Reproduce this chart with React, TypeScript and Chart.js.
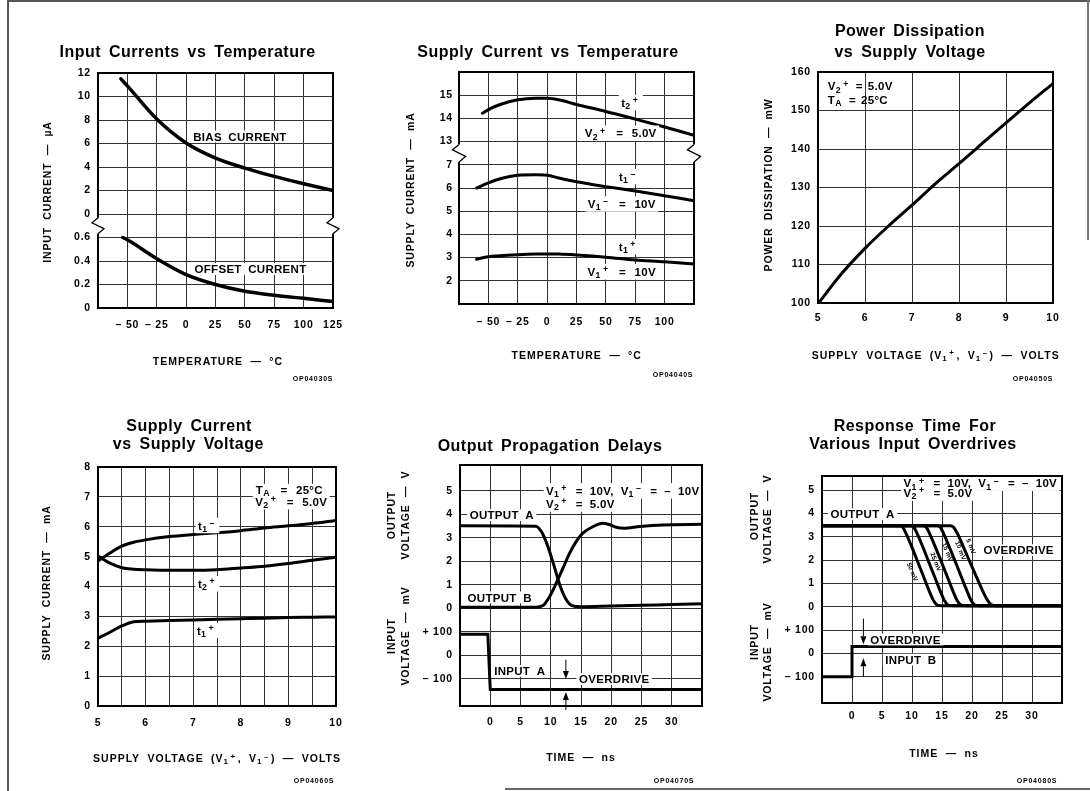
import React, { useEffect, useRef } from 'react';
import { Chart, registerables } from 'chart.js';

Chart.register(...registerables);

const PAGE_W = 1090;
const PAGE_H = 791;
const FONT = '"Liberation Sans", Arial, Helvetica, sans-serif';

/* ================= DATA ================= */
// Panel 1 — Input Currents vs Temperature
const p1BiasTemp = [-55.5, -50, -25, 0, 25, 50, 75, 100, 125];
const p1BiasCurrent = [11.5, 10.9, 8.08, 6.04, 4.76, 3.91, 3.2, 2.58, 2.0];
const p1OffsetTemp = [-54, -50, -25, 0, 25, 50, 75, 100, 125];
const p1OffsetCurrent = [0.6, 0.58, 0.42, 0.284, 0.2, 0.142, 0.108, 0.082, 0.056];
const p1TempTicks = [-75, -50, -25, 0, 25, 50, 75, 100, 125];
const p1TempLabels = ['', '– 50', '– 25', '0', '25', '50', '75', '100', '125'];
const p1GridSteps = [0, 1, 2, 3, 4, 5, 6, 7, 8, 9, 10];
const p1CurrentLabels = ['0', '0.2', '0.4', '0.6', '0', '2', '4', '6', '8', '10', '12'];

// Panel 2 — Supply Current vs Temperature
const p2TempT2 = [-55, -50, -40, -25, -10, 0, 10, 25, 50, 75, 100, 125];
const p2T2Plus = [14.22, 14.38, 14.6, 14.8, 14.87, 14.87, 14.8, 14.6, 14.3, 13.97, 13.63, 13.27];
const p2TempT1 = [-60, -50, -40, -25, -10, 0, 10, 25, 50, 75, 100, 125];
const p2T1Minus = [6.0, 6.22, 6.4, 6.55, 6.57, 6.55, 6.43, 6.27, 6.06, 5.87, 5.67, 5.45];
const p2T1Plus = [2.93, 3.04, 3.08, 3.12, 3.15, 3.16, 3.15, 3.11, 3.02, 2.9, 2.82, 2.72];
const p2TempTicks = [-75, -50, -25, 0, 25, 50, 75, 100, 125];
const p2TempLabels = ['', '– 50', '– 25', '0', '25', '50', '75', '100', ''];
const p2GridSteps = [0, 1, 2, 3, 4, 5, 6, 7, 8, 9, 10];
const p2CurrentLabels = ['', '2', '3', '4', '5', '6', '7', '13', '14', '15', ''];

// Panel 3 — Power Dissipation vs Supply Voltage
const p3Volts = [5, 5.5, 6, 6.5, 7, 7.5, 8, 8.5, 9, 9.5, 10];
const p3Power = [99.8, 107.6, 114.2, 120, 125.4, 131, 136.2, 141.5, 146.8, 152, 157];
const p3VoltTicks = [5, 6, 7, 8, 9, 10];
const p3VoltLabels = ['5', '6', '7', '8', '9', '10'];
const p3PowerTicks = [100, 110, 120, 130, 140, 150, 160];
const p3PowerLabels = ['100', '110', '120', '130', '140', '150', '160'];

// Panel 4 — Supply Current vs Supply Voltage
const p4Volts = [5, 5.25, 5.5, 5.75, 6, 6.5, 7, 7.5, 8, 8.5, 9, 9.5, 10];
const p4T1Minus = [4.85, 5.12, 5.35, 5.48, 5.56, 5.67, 5.74, 5.8, 5.87, 5.96, 6.03, 6.11, 6.21];
const p4T2Plus = [5.02, 4.78, 4.63, 4.58, 4.56, 4.54, 4.54, 4.56, 4.62, 4.68, 4.77, 4.88, 4.98];
const p4T1Plus = [2.27, 2.47, 2.68, 2.82, 2.84, 2.86, 2.88, 2.9, 2.92, 2.94, 2.96, 2.97, 2.98];
const p4VoltTicks = [5, 5.5, 6, 6.5, 7, 7.5, 8, 8.5, 9, 9.5, 10];
const p4VoltLabels = ['5', '', '6', '', '7', '', '8', '', '9', '', '10'];
const p4CurrentTicks = [0, 1, 2, 3, 4, 5, 6, 7, 8];
const p4CurrentLabels = ['0', '1', '2', '3', '4', '5', '6', '7', '8'];

// Panel 5 — Output Propagation Delays
const p5OutATime = [-5, 7.5, 8.5, 9.5, 10.5, 11.5, 12.5, 13.5, 15, 20, 25, 30, 35];
const p5OutAVolt = [3.52, 3.5, 3.25, 2.65, 1.85, 1.0, 0.4, 0.12, 0.07, 0.1, 0.13, 0.17, 0.2];
const p5OutBTime = [-5, 7.5, 8.7, 9.8, 10.9, 12, 13.1, 14.2, 15.3, 17, 18.6, 19.5, 20.8, 22.2, 24.7, 28.5, 35];
const p5OutBVolt = [0.05, 0.05, 0.12, 0.5, 1.07, 1.7, 2.34, 2.84, 3.2, 3.48, 3.62, 3.58, 3.45, 3.41, 3.48, 3.55, 3.58];
const p5InATime = [-5, -0.4, 0, 35];
const p5InAmV = [90, 90, -145, -145];

// Panel 6 — Response Time for Various Input Overdrives
const p6InBTime = [-5, 0, 0, 35];
const p6InBmV = [-100, -100, 30, 30];
const p6Od50Time = [-5, 8.0, 8.5, 9.0, 10.0, 11.0, 12.0, 13.0, 13.6, 14.2, 15.0, 35];
const p6Od50Volt = [3.48, 3.48, 3.4, 3.15, 2.55, 1.9, 1.25, 0.6, 0.26, 0.08, 0.05, 0.05];
const p6Od25Time = [-5, 9.8, 10.3, 10.8, 11.8, 12.8, 13.8, 14.8, 15.4, 16.0, 16.8, 35];
const p6Od25Volt = [3.48, 3.48, 3.41, 3.17, 2.57, 1.92, 1.27, 0.62, 0.27, 0.08, 0.05, 0.05];
const p6Od15Time = [-5, 11.9, 12.4, 12.9, 13.9, 14.9, 15.9, 16.9, 17.5, 18.1, 18.9, 35];
const p6Od15Volt = [3.48, 3.48, 3.4, 3.16, 2.56, 1.93, 1.28, 0.63, 0.28, 0.09, 0.05, 0.05];
const p6Od10Time = [-5, 14.2, 14.7, 15.2, 16.2, 17.2, 18.2, 19.2, 19.8, 20.4, 21.2, 35];
const p6Od10Volt = [3.48, 3.48, 3.42, 3.18, 2.58, 1.95, 1.3, 0.66, 0.3, 0.09, 0.05, 0.05];
const p6Od5Time = [-5, 16.4, 16.9, 17.5, 18.6, 19.7, 20.8, 21.9, 22.6, 23.3, 24.2, 35];
const p6Od5Volt = [3.48, 3.48, 3.42, 3.18, 2.55, 1.9, 1.25, 0.62, 0.28, 0.08, 0.05, 0.05];
const p6OdLabels = ['50 mV', '25 mV', '15 mV', '10 mV', '5 mV'];

// shared time axis (panels 5, 6)
const timeTicks = [-5, 0, 5, 10, 15, 20, 25, 30, 35];
const timeLabels = ['', '0', '5', '10', '15', '20', '25', '30', ''];
const voltGridSteps = [-3, -2, -1, 0, 1, 2, 3, 4, 5];
const voltLabels = ['– 100', '0', '+ 100', '0', '1', '2', '3', '4', '5'];

/* ============ broken-axis mappings ============ */
const p1Upper = (uA: number) => 4 + uA / 2; // 0..12 µA  -> grid 4..10
const p1Lower = (uA: number) => uA * 5; // 0..0.6 µA -> grid 0..3
const p2Map = (mA: number) => (mA >= 10 ? mA - 6 : mA - 1); // 13..16 -> 7..10, 1..7 -> 0..6
const outV = (v: number) => v; // output volts
const inMV = (mv: number) => -2 + mv / 100; // input millivolts

/* ============ helpers ============ */
const pts = (xs: number[], ys: number[], f: (v: number) => number = (v) => v) =>
  xs.map((x, i) => ({ x, y: f(ys[i]) }));

const curve = (data: any[], width = 3) => ({
  data,
  borderColor: '#000',
  borderWidth: width,
  pointRadius: 0,
  fill: false,
  cubicInterpolationMode: 'monotone',
  borderCapStyle: 'round',
  borderJoinStyle: 'round',
});
const stepLine = (data: any[]) => ({
  data,
  borderColor: '#000',
  borderWidth: 3,
  pointRadius: 0,
  fill: false,
  tension: 0,
  borderJoinStyle: 'miter',
});

function richSegments(s: string) {
  const out: { t: string; k: string }[] = [];
  const re = /\{([_^])([^}]*)\}/g;
  let last = 0;
  let m: RegExpExecArray | null;
  while ((m = re.exec(s))) {
    if (m.index > last) out.push({ t: s.slice(last, m.index), k: 'n' });
    out.push({ t: m[2], k: m[1] === '_' ? 'b' : 'p' });
    last = re.lastIndex;
  }
  if (last < s.length) out.push({ t: s.slice(last), k: 'n' });
  return out;
}

type TOpt = { size?: number; ls?: number; ws?: number; align?: string; bg?: boolean; rot?: number; gap?: number; mode?: string };

function txt(ctx: any, s: string, x: number, y: number, o: TOpt = {}) {
  const size = o.size ?? 11.5;
  const ls = o.ls ?? 0.3;
  const ws = o.ws ?? 0;
  const gap = o.gap ?? 1.2;
  const mode = o.mode ?? 'both';
  const segs = richSegments(s);
  ctx.save();
  ctx.translate(x, y);
  if (o.rot) ctx.rotate(o.rot);
  ctx.letterSpacing = `${ls}px`;
  const fontFor = (k: string) => `bold ${k === 'n' ? size : size * 0.76}px ${FONT}`;
  // split into pieces so that extra word spacing is applied manually
  const pieces: { t: string; k: string; w: number }[] = [];
  segs.forEach((sg) => {
    ctx.font = fontFor(sg.k);
    const parts = sg.t.split(' ');
    parts.forEach((p, j) => {
      if (j > 0) pieces.push({ t: '', k: sg.k, w: ctx.measureText(' ').width + ws });
      if (p) pieces.push({ t: p, k: sg.k, w: ctx.measureText(p).width });
    });
    if (sg.k !== 'n' && pieces.length) pieces[pieces.length - 1].w += gap;
  });
  const total = pieces.reduce((a, b) => a + b.w, 0);
  let cx = o.align === 'center' ? -total / 2 : o.align === 'right' ? -total : 0;
  if (o.bg && mode !== 'text') {
    const hasSup = segs.some((g) => g.k === 'p');
    const hasSub = segs.some((g) => g.k === 'b');
    const top = -(hasSup ? 0.54 : 0.38) * size - 1.5;
    const bot = (hasSub ? 0.54 : 0.38) * size + 1.5;
    ctx.fillStyle = '#fff';
    ctx.fillRect(cx - 2.5, top, total + 5, bot - top);
  }
  if (mode !== 'bg') {
    ctx.fillStyle = '#000';
    ctx.textAlign = 'left';
    ctx.textBaseline = 'alphabetic';
    const base = size * 0.36;
    pieces.forEach((pc) => {
      if (pc.t) {
        ctx.font = fontFor(pc.k);
        const dy = pc.k === 'b' ? size * 0.19 : pc.k === 'p' ? -size * 0.32 : 0;
        ctx.fillText(pc.t, cx, base + dy);
      }
      cx += pc.w;
    });
  }
  ctx.restore();
}

const title = (ctx: any, s: string, x: number, y: number) =>
  txt(ctx, s, x, y, { size: 16, ls: 0.5, ws: 3, align: 'center' });
const axisX = (ctx: any, s: string, x: number, y: number) =>
  txt(ctx, s, x, y, { size: 10.5, ls: 1.0, ws: 3.5, align: 'center', gap: 1.5 });
const axisY = (ctx: any, s: string, x: number, y: number) =>
  txt(ctx, s, x, y, { size: 10.5, ls: 0.85, ws: 3.5, align: 'center', rot: -Math.PI / 2 });
const code = (ctx: any, s: string, x: number, y: number) =>
  txt(ctx, s, x, y, { size: 7, ls: 0.8, ws: 0, align: 'center' });

type Lbl = [string, number, number, string?, boolean?];
function labels(ctx: any, list: Lbl[], eqSpacing = 3.5) {
  const opt = (l: Lbl, mode: string) => ({
    size: 11.5,
    ls: 0.3,
    ws: l[0].includes('=') ? eqSpacing : 3,
    gap: 2.2,
    align: l[3] ?? 'center',
    bg: l[4] ?? true,
    mode,
  });
  list.forEach((l) => txt(ctx, l[0], l[1], l[2], opt(l, 'bg')));
  list.forEach((l) => txt(ctx, l[0], l[1], l[2], opt(l, 'text')));
}

function frame(ctx: any, a: any) {
  ctx.save();
  ctx.strokeStyle = '#000';
  ctx.lineWidth = 2;
  ctx.strokeRect(a.left, a.top, a.right - a.left, a.bottom - a.top);
  ctx.restore();
}

function breakMark(ctx: any, x: number, y: number, s = 1) {
  ctx.save();
  ctx.fillStyle = '#fff';
  ctx.fillRect(x - 2, y - 8 * s, 4, 16 * s);
  ctx.strokeStyle = '#000';
  ctx.lineWidth = 1.3;
  ctx.beginPath();
  ctx.moveTo(x, y - 8 * s);
  ctx.lineTo(x - 6 * s, y - 3 * s);
  ctx.lineTo(x + 6 * s, y + 3 * s);
  ctx.lineTo(x, y + 8 * s);
  ctx.stroke();
  ctx.restore();
}

function arrow(ctx: any, x: number, yFrom: number, yTo: number) {
  ctx.save();
  ctx.strokeStyle = '#000';
  ctx.fillStyle = '#000';
  ctx.lineWidth = 1;
  const dir = Math.sign(yTo - yFrom);
  const hl = 8;
  const hw = 3;
  ctx.beginPath();
  ctx.moveTo(x, yFrom);
  ctx.lineTo(x, yTo - dir * hl);
  ctx.stroke();
  ctx.beginPath();
  ctx.moveTo(x - hw, yTo - dir * hl);
  ctx.lineTo(x + hw, yTo - dir * hl);
  ctx.lineTo(x, yTo);
  ctx.closePath();
  ctx.fill();
  ctx.restore();
}

/* ============ chart builder ============ */
type Axis = { min: number; max: number; ticks: number[]; labels: string[]; pad: number };
type Spec = {
  area: [number, number, number, number];
  x: Axis;
  y: Axis;
  datasets: any[];
  draw: (c: any, ctx: any, X: (v: number) => number, Y: (v: number) => number) => void;
};

const YW = 40;
const XH = 30;

function buildChart(canvas: HTMLCanvasElement, s: Spec) {
  const [L, T, R, B] = s.area;
  const tickFont = { family: FONT, size: 10.5, weight: 'bold' };
  const grid = { color: '#333', lineWidth: 1, drawTicks: false };
  return new Chart(canvas, {
    type: 'line',
    data: { datasets: s.datasets },
    options: {
      responsive: false,
      animation: false,
      events: [],
      layout: { padding: { left: L - YW, top: T, right: PAGE_W - R, bottom: PAGE_H - B - XH } },
      plugins: { legend: { display: false }, tooltip: { enabled: false }, title: { display: false } },
      scales: {
        x: {
          type: 'linear',
          min: s.x.min,
          max: s.x.max,
          afterBuildTicks: (sc: any) => {
            sc.ticks = s.x.ticks.map((v) => ({ value: v }));
          },
          afterFit: (sc: any) => {
            sc.height = XH;
          },
          ticks: {
            autoSkip: false,
            maxRotation: 0,
            minRotation: 0,
            padding: s.x.pad,
            color: '#000',
            font: tickFont,
            callback: (_v: any, i: number) => s.x.labels[i] ?? '',
          },
          grid,
          border: { display: false },
        },
        y: {
          type: 'linear',
          min: s.y.min,
          max: s.y.max,
          afterBuildTicks: (sc: any) => {
            sc.ticks = s.y.ticks.map((v) => ({ value: v }));
          },
          afterFit: (sc: any) => {
            sc.width = YW;
          },
          ticks: {
            autoSkip: false,
            padding: s.y.pad,
            color: '#000',
            font: tickFont,
            callback: (_v: any, i: number) => s.y.labels[i] ?? '',
          },
          grid,
          border: { display: false },
        },
      },
    },
    plugins: [
      {
        id: 'panelOverlay',
        beforeDraw: (c: any) => {
          c.ctx.letterSpacing = '0.8px';
        },
        afterDraw: (c: any) => {
          const X = (v: number) => c.scales.x.getPixelForValue(v);
          const Y = (v: number) => c.scales.y.getPixelForValue(v);
          s.draw(c, c.ctx, X, Y);
        },
      },
    ],
  } as any);
}

/* ============ panel specs ============ */
const specs: Spec[] = [
  {
    area: [98, 73, 333, 308],
    x: { min: -75, max: 125, ticks: p1TempTicks, labels: p1TempLabels, pad: 11 },
    y: { min: 0, max: 10, ticks: p1GridSteps, labels: p1CurrentLabels, pad: 7 },
    datasets: [curve(pts(p1BiasTemp, p1BiasCurrent, p1Upper), 3.5), curve(pts(p1OffsetTemp, p1OffsetCurrent, p1Lower), 3.5)],
    draw: (c, ctx, X, Y) => {
      labels(ctx, [
        ['BIAS CURRENT', X(45.8), Y(p1Upper(6.6))],
        ['OFFSET CURRENT', X(54.8), Y(p1Lower(0.332))],
      ]);
      frame(ctx, c.chartArea);
      breakMark(ctx, c.chartArea.left, Y(3.5));
      breakMark(ctx, c.chartArea.right, Y(3.5));
      title(ctx, 'Input Currents vs Temperature', 187.5, 51.7);
      axisX(ctx, 'TEMPERATURE — °C', 218, 361.7);
      axisY(ctx, 'INPUT CURRENT — µA', 47.3, 192);
      code(ctx, 'OP04030S', 313, 378);
    },
  },
  {
    area: [459, 72, 694, 304],
    x: { min: -75, max: 125, ticks: p2TempTicks, labels: p2TempLabels, pad: 11.5 },
    y: { min: 0, max: 10, ticks: p2GridSteps, labels: p2CurrentLabels, pad: 6 },
    datasets: [
      curve(pts(p2TempT2, p2T2Plus, p2Map)),
      curve(pts(p2TempT1, p2T1Minus, p2Map)),
      curve(pts(p2TempT1, p2T1Plus, p2Map)),
    ],
    draw: (c, ctx, X, Y) => {
      labels(
        ctx,
        [
          ['t{_2}{^+}', X(71.2), Y(p2Map(14.68))],
          ['V{_2}{^+} = 5.0V', X(62.6), Y(p2Map(13.36))],
          ['t{_1}{^–}', X(69.1), Y(p2Map(6.49))],
          ['V{_1}{^–} = 10V', X(63.5), Y(p2Map(5.31))],
          ['t{_1}{^+}', X(69.1), Y(p2Map(3.47))],
          ['V{_1}{^+} = 10V', X(63.5), Y(p2Map(2.39))],
        ],
        5
      );
      frame(ctx, c.chartArea);
      breakMark(ctx, c.chartArea.left, Y(6.5), 1.1);
      breakMark(ctx, c.chartArea.right, Y(6.5), 1.1);
      title(ctx, 'Supply Current vs Temperature', 548, 51.7);
      axisX(ctx, 'TEMPERATURE — °C', 576.7, 355);
      axisY(ctx, 'SUPPLY CURRENT — mA', 410, 190);
      code(ctx, 'OP04040S', 673, 374);
    },
  },
  {
    area: [818, 72, 1053, 303],
    x: { min: 5, max: 10, ticks: p3VoltTicks, labels: p3VoltLabels, pad: 9 },
    y: { min: 100, max: 160, ticks: p3PowerTicks, labels: p3PowerLabels, pad: 7 },
    datasets: [curve(pts(p3Volts, p3Power))],
    draw: (c, ctx, X, Y) => {
      labels(
        ctx,
        [
          ['V{_2}{^+} = 5.0V', X(5.21), Y(156.3), 'left', false],
          ['T{_A} = 25°C', X(5.21), Y(152.7), 'left', false],
        ],
        1.5
      );
      frame(ctx, c.chartArea);
      title(ctx, 'Power Dissipation', 910, 30);
      title(ctx, 'vs Supply Voltage', 910, 51.7);
      axisX(ctx, 'SUPPLY VOLTAGE (V{_1}{^+}, V{_1}{^–}) — VOLTS', 935.7, 355);
      axisY(ctx, 'POWER DISSIPATION — mW', 768.3, 185);
      code(ctx, 'OP04050S', 1033, 378);
    },
  },
  {
    area: [98, 467, 336, 706],
    x: { min: 5, max: 10, ticks: p4VoltTicks, labels: p4VoltLabels, pad: 11 },
    y: { min: 0, max: 8, ticks: p4CurrentTicks, labels: p4CurrentLabels, pad: 7 },
    datasets: [curve(pts(p4Volts, p4T1Minus)), curve(pts(p4Volts, p4T2Plus)), curve(pts(p4Volts, p4T1Plus))],
    draw: (c, ctx, X, Y) => {
      labels(
        ctx,
        [
          ['T{_A} = 25°C', X(9.02), Y(7.24)],
          ['V{_2}{^+} = 5.0V', X(9.06), Y(6.84)],
          ['t{_1}{^–}', X(7.3), Y(6.04)],
          ['t{_2}{^+}', X(7.3), Y(4.09)],
          ['t{_1}{^+}', X(7.28), Y(2.53)],
        ],
        5
      );
      frame(ctx, c.chartArea);
      title(ctx, 'Supply Current', 189, 425);
      title(ctx, 'vs Supply Voltage', 188.3, 443.3);
      axisX(ctx, 'SUPPLY VOLTAGE (V{_1}{^+}, V{_1}{^–}) — VOLTS', 217, 758.5);
      axisY(ctx, 'SUPPLY CURRENT — mA', 46.7, 583);
      code(ctx, 'OP04060S', 314, 780);
    },
  },
  {
    area: [460, 465, 702, 706],
    x: { min: -5, max: 35, ticks: timeTicks, labels: timeLabels, pad: 9.7 },
    y: { min: -4.15, max: 6.1, ticks: voltGridSteps, labels: voltLabels, pad: 7 },
    datasets: [
      curve(pts(p5OutATime, p5OutAVolt, outV)),
      curve(pts(p5OutBTime, p5OutBVolt, outV)),
      stepLine(pts(p5InATime, p5InAmV, inMV)),
    ],
    draw: (c, ctx, X, Y) => {
      labels(ctx, [
        ['V{_1}{^+} = 10V, V{_1}{^–} = – 10V', X(9.2), Y(5.0), 'left'],
        ['V{_2}{^+} = 5.0V', X(9.2), Y(4.44), 'left'],
        ['OUTPUT A', X(-3.4), Y(3.97), 'left'],
        ['OUTPUT B', X(-3.75), Y(0.47), 'left'],
        ['INPUT A', X(0.65), Y(inMV(-66)), 'left'],
        ['OVERDRIVE', X(20.5), Y(inMV(-100))],
      ]);
      arrow(ctx, X(12.5), Y(inMV(-18)), Y(inMV(-100)));
      arrow(ctx, X(12.5), Y(inMV(-232)), Y(inMV(-155)));
      frame(ctx, c.chartArea);
      title(ctx, 'Output Propagation Delays', 550, 445);
      axisX(ctx, 'TIME — ns', 581, 757.5);
      axisY(ctx, 'OUTPUT', 391.7, 515);
      axisY(ctx, 'VOLTAGE — V', 405, 515);
      axisY(ctx, 'INPUT', 391.7, 636);
      axisY(ctx, 'VOLTAGE — mV', 405, 636);
      code(ctx, 'OP04070S', 674, 780);
    },
  },
  {
    area: [822, 476, 1062, 703],
    x: { min: -5, max: 35, ticks: timeTicks, labels: timeLabels, pad: 6.5 },
    y: { min: -4.12, max: 5.61, ticks: voltGridSteps, labels: voltLabels, pad: 7 },
    datasets: [
      curve(pts(p6Od50Time, p6Od50Volt, outV)),
      curve(pts(p6Od25Time, p6Od25Volt, outV)),
      curve(pts(p6Od15Time, p6Od15Volt, outV)),
      curve(pts(p6Od10Time, p6Od10Volt, outV)),
      curve(pts(p6Od5Time, p6Od5Volt, outV)),
      stepLine(pts(p6InBTime, p6InBmV, inMV)),
    ],
    draw: (c, ctx, X, Y) => {
      labels(ctx, [
        ['V{_1}{^+} = 10V, V{_1}{^–} = – 10V', X(8.6), Y(5.3), 'left'],
        ['V{_2}{^+} = 5.0V', X(8.6), Y(4.88), 'left'],
        ['OUTPUT A', X(-3.6), Y(3.98), 'left'],
        ['OVERDRIVE', X(21.9), Y(2.43), 'left'],
        ['OVERDRIVE', X(3.05), Y(inMV(60)), 'left'],
        ['INPUT B', X(5.55), Y(inMV(-26)), 'left'],
      ]);
      arrow(ctx, X(1.9), Y(inMV(150)), Y(inMV(40)));
      arrow(ctx, X(1.9), Y(inMV(-100)), Y(inMV(-20)));
      const odPos = [
        [10.1, 1.5],
        [14.0, 1.93],
        [15.95, 2.35],
        [18.15, 2.42],
        [19.85, 2.6],
      ];
      p6OdLabels.forEach((s, i) =>
        txt(ctx, s, X(odPos[i][0]), Y(odPos[i][1]), { size: 6.5, ls: 0, ws: 0.5, align: 'center', rot: (68 * Math.PI) / 180 })
      );
      frame(ctx, c.chartArea);
      title(ctx, 'Response Time For', 915, 425);
      title(ctx, 'Various Input Overdrives', 913, 443.3);
      axisX(ctx, 'TIME — ns', 944, 753);
      axisY(ctx, 'OUTPUT', 754, 516);
      axisY(ctx, 'VOLTAGE — V', 767.3, 519);
      axisY(ctx, 'INPUT', 754, 642);
      axisY(ctx, 'VOLTAGE — mV', 767.3, 652);
      code(ctx, 'OP04080S', 1037, 780);
    },
  },
];

function Panel({ spec }: { spec: Spec }) {
  const ref = useRef<HTMLCanvasElement>(null);
  useEffect(() => {
    const chart = buildChart(ref.current as HTMLCanvasElement, spec);
    return () => chart.destroy();
  }, [spec]);
  return <canvas ref={ref} width={PAGE_W} height={PAGE_H} style={{ position: 'absolute', left: 0, top: 0 }} />;
}

export default function App() {
  return (
    <div style={{ position: 'absolute', left: 0, top: 0, width: PAGE_W, height: PAGE_H, background: '#fff', overflow: 'hidden' }}>
      <div style={{ position: 'absolute', left: 7, top: 0, width: 2, height: PAGE_H, background: '#555' }} />
      <div style={{ position: 'absolute', left: 8, top: 0, width: PAGE_W - 8, height: 1.5, background: '#555' }} />
      <div style={{ position: 'absolute', left: 1087, top: 0, width: 1.5, height: 240, background: '#777' }} />
      <div style={{ position: 'absolute', left: 505, top: 788, width: PAGE_W - 505, height: 1.5, background: '#666' }} />
      {specs.map((s, i) => (
        <Panel key={i} spec={s} />
      ))}
    </div>
  );
}
